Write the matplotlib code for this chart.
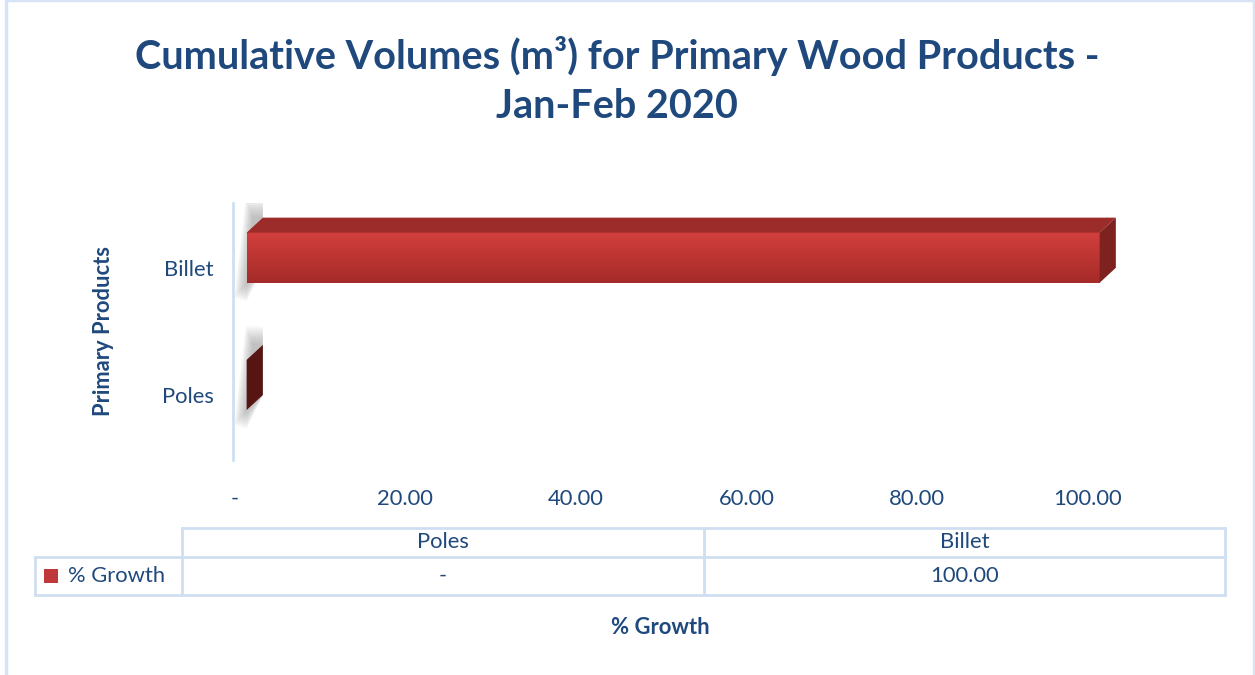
import numpy as np
import matplotlib.pyplot as plt
from matplotlib.patches import Polygon, Rectangle
from matplotlib.lines import Line2D

plt.rcParams['font.family'] = ['Lato', 'DejaVu Sans']

categories = ['Poles', 'Billet']
growth = [0.0, 100.0]
xticks = [0, 20, 40, 60, 80, 100]
series_name = '% Growth'

title = 'Cumulative Volumes (m³) for Primary Wood Products -\nJan-Feb 2020'
blue = '#1F497D'
grid_blue = '#CFDFF2'
fs = 15.8

W, H = 1255, 675
fig = plt.figure(figsize=(W / 100, H / 100), dpi=100)


def fx(x):
    return x / W


def fy(y):
    return 1 - y / H


def fmt(v):
    return '-' if v == 0 else f'{v:.2f}'


# outer border of chart area
fig.add_artist(Rectangle((fx(6), fy(700)), fx(1248), 700 / H, transform=fig.transFigure,
                         fill=False, ec='#D6E4F5', lw=2.5))

fig.text(fx(617), fy(81), title, ha='center', va='center', fontsize=28.5,
         fontweight='bold', color=blue, linespacing=1.4)

ax = fig.add_axes([fx(233), fy(460), fx(940), 257 / H])
ax.set_xlim(-0.2, 110)
ax.set_ylim(-0.51, 1.51)
for s in ['top', 'right', 'bottom']:
    ax.spines[s].set_visible(False)
ax.spines['left'].set_color(grid_blue)
ax.spines['left'].set_linewidth(2)

# 3D-ish bars: front face offset, depth in data units
x_off, dx, dy = 1.4, 1.9, 0.118
h, y_off = 0.394, 0.08
grad = np.linspace(0, 1, 100).reshape(-1, 1)
red_cmap = plt.matplotlib.colors.LinearSegmentedColormap.from_list('r', ['#D23F3C', '#A52B29'])

for i, (cat, v) in enumerate(zip(categories, growth)):
    x0 = x_off
    x1 = x_off + v
    y0 = i + y_off - h / 2
    y1 = i + y_off + h / 2
    # soft shadow on the left
    for k in range(10):
        e = 0.2 + k * 0.3
        ax.add_patch(Polygon([(x0 - e * 0.5, y0 - e * 0.04), (x0 - e * 0.3 + dx * 0.4, y1 + dy + e * 0.05),
                              (x0 + dx, y1 + dy + e * 0.05), (x0 + dx, y0 + dy), (x0, y0 - e * 0.05)],
                             closed=True, fc='#707070', ec='none', alpha=0.05, zorder=1))
    if v > 0:
        ax.imshow(grad, cmap=red_cmap, extent=(x0, x1, y0, y1), aspect='auto', origin='upper', zorder=3)
        ax.add_patch(Polygon([(x0, y1), (x0 + dx, y1 + dy), (x1 + dx, y1 + dy), (x1, y1)],
                             closed=True, fc='#9C2C2A', ec='none', zorder=3))
        ax.add_patch(Polygon([(x1, y1), (x1 + dx, y1 + dy), (x1 + dx, y0 + dy), (x1, y0)],
                             closed=True, fc='#7E2220', ec='none', zorder=3))
    else:
        ax.add_patch(Polygon([(x1, y1), (x1 + dx, y1 + dy), (x1 + dx, y0 + dy), (x1, y0)],
                             closed=True, fc='#561413', ec='none', zorder=3))

ax.set_xlim(-0.2, 110)
ax.set_ylim(-0.51, 1.51)
ax.set_xticks(xticks)
ax.set_xticklabels([fmt(t) for t in xticks], fontsize=fs, color=blue)
ax.set_yticks(range(len(categories)))
ax.set_yticklabels(categories, fontsize=fs, color=blue)
ax.tick_params(length=0)
ax.tick_params(axis='x', pad=21)
ax.tick_params(axis='y', pad=14)

fig.text(fx(104), fy(331), 'Primary Products', rotation=90, ha='center', va='center',
         fontsize=fs, fontweight='bold', color=blue)

# data table
tl, tm, tr = 182, 704, 1225
ty0, ty1, ty2 = 528, 557, 595
lx = 35


def hline(x0, x1, y):
    fig.add_artist(Line2D([fx(x0), fx(x1)], [fy(y), fy(y)], color=grid_blue, lw=2))


def vline(x, y0, y1):
    fig.add_artist(Line2D([fx(x), fx(x)], [fy(y0), fy(y1)], color=grid_blue, lw=2))


hline(tl, tr, ty0)
hline(lx, tr, ty1)
hline(lx, tr, ty2)
vline(lx, ty1, ty2)
vline(tl, ty0, ty2)
vline(tm, ty0, ty2)
vline(tr, ty0, ty2)

cols = [(tl + tm) / 2, (tm + tr) / 2]
for c, cat, v in zip(cols, categories, growth):
    fig.text(fx(c), fy((ty0 + ty1) / 2), cat, ha='center', va='center', fontsize=fs, color=blue)
    fig.text(fx(c), fy((ty1 + ty2) / 2), fmt(v), ha='center', va='center', fontsize=fs, color=blue)

fig.add_artist(Rectangle((fx(44), fy(583)), fx(14), 14 / H, transform=fig.transFigure,
                         fc='#C0393A', ec='none'))
fig.text(fx(68), fy((ty1 + ty2) / 2), series_name, ha='left', va='center', fontsize=fs, color=blue)

fig.text(fx(660), fy(628), series_name, ha='center', va='center', fontsize=fs,
         fontweight='bold', color=blue)

fig.savefig('out.png', dpi=100)
